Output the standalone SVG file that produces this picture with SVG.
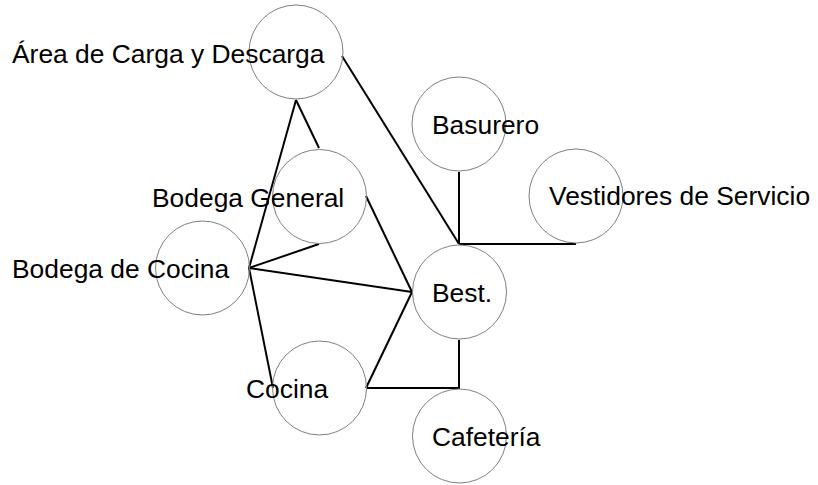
<svg xmlns="http://www.w3.org/2000/svg" width="818" height="485" viewBox="0 0 818 485">
<style>
.n{fill:none;stroke:#808080;stroke-width:1}
.t{font-family:"Liberation Sans",Arial,sans-serif;font-size:26.4px;fill:#000}
.c{fill:none;stroke:#000;stroke-width:2;stroke-linejoin:miter}
</style>
<rect width="818" height="485" fill="#fff"/>
<g id="connectors">
<line class="c" x1="342" y1="56" x2="459" y2="244"/>
<line class="c" x1="459" y1="172" x2="459" y2="244"/>
<line class="c" x1="459" y1="244" x2="576" y2="244"/>
<line class="c" x1="296" y1="100" x2="249" y2="268"/>
<line class="c" x1="296" y1="100" x2="319" y2="148"/>
<line class="c" x1="319" y1="244" x2="249" y2="268"/>
<line class="c" x1="366" y1="196" x2="412" y2="292"/>
<line class="c" x1="249" y1="268" x2="412" y2="292"/>
<line class="c" x1="249" y1="268" x2="273" y2="388"/>
<line class="c" x1="366" y1="388" x2="412" y2="292"/>
<polyline class="c" points="366,388 459,388 459,340"/>
</g>
<g id="area"><circle class="n" cx="296" cy="52" r="47"/><text class="t" x="12" y="63">Área de Carga y Descarga</text></g>
<g id="bodega-general"><circle class="n" cx="319.5" cy="196.5" r="47"/><text class="t" x="152" y="207">Bodega General</text></g>
<g id="bodega-cocina"><circle class="n" cx="202.5" cy="268" r="47"/><text class="t" x="12" y="278">Bodega de Cocina</text></g>
<g id="cocina"><circle class="n" cx="319.5" cy="388" r="47"/><text class="t" x="246" y="398">Cocina</text></g>
<g id="best"><circle class="n" cx="459.5" cy="292" r="47"/><text class="t" x="432" y="302">Best.</text></g>
<g id="cafeteria"><circle class="n" cx="459.5" cy="436" r="47"/><text class="t" x="432" y="446">Cafetería</text></g>
<g id="basurero"><circle class="n" cx="459" cy="124" r="47"/><text class="t" x="432" y="134">Basurero</text></g>
<g id="vestidores"><circle class="n" cx="576" cy="196" r="47"/><text class="t" x="549" y="205">Vestidores de Servicio</text></g>
</svg>
